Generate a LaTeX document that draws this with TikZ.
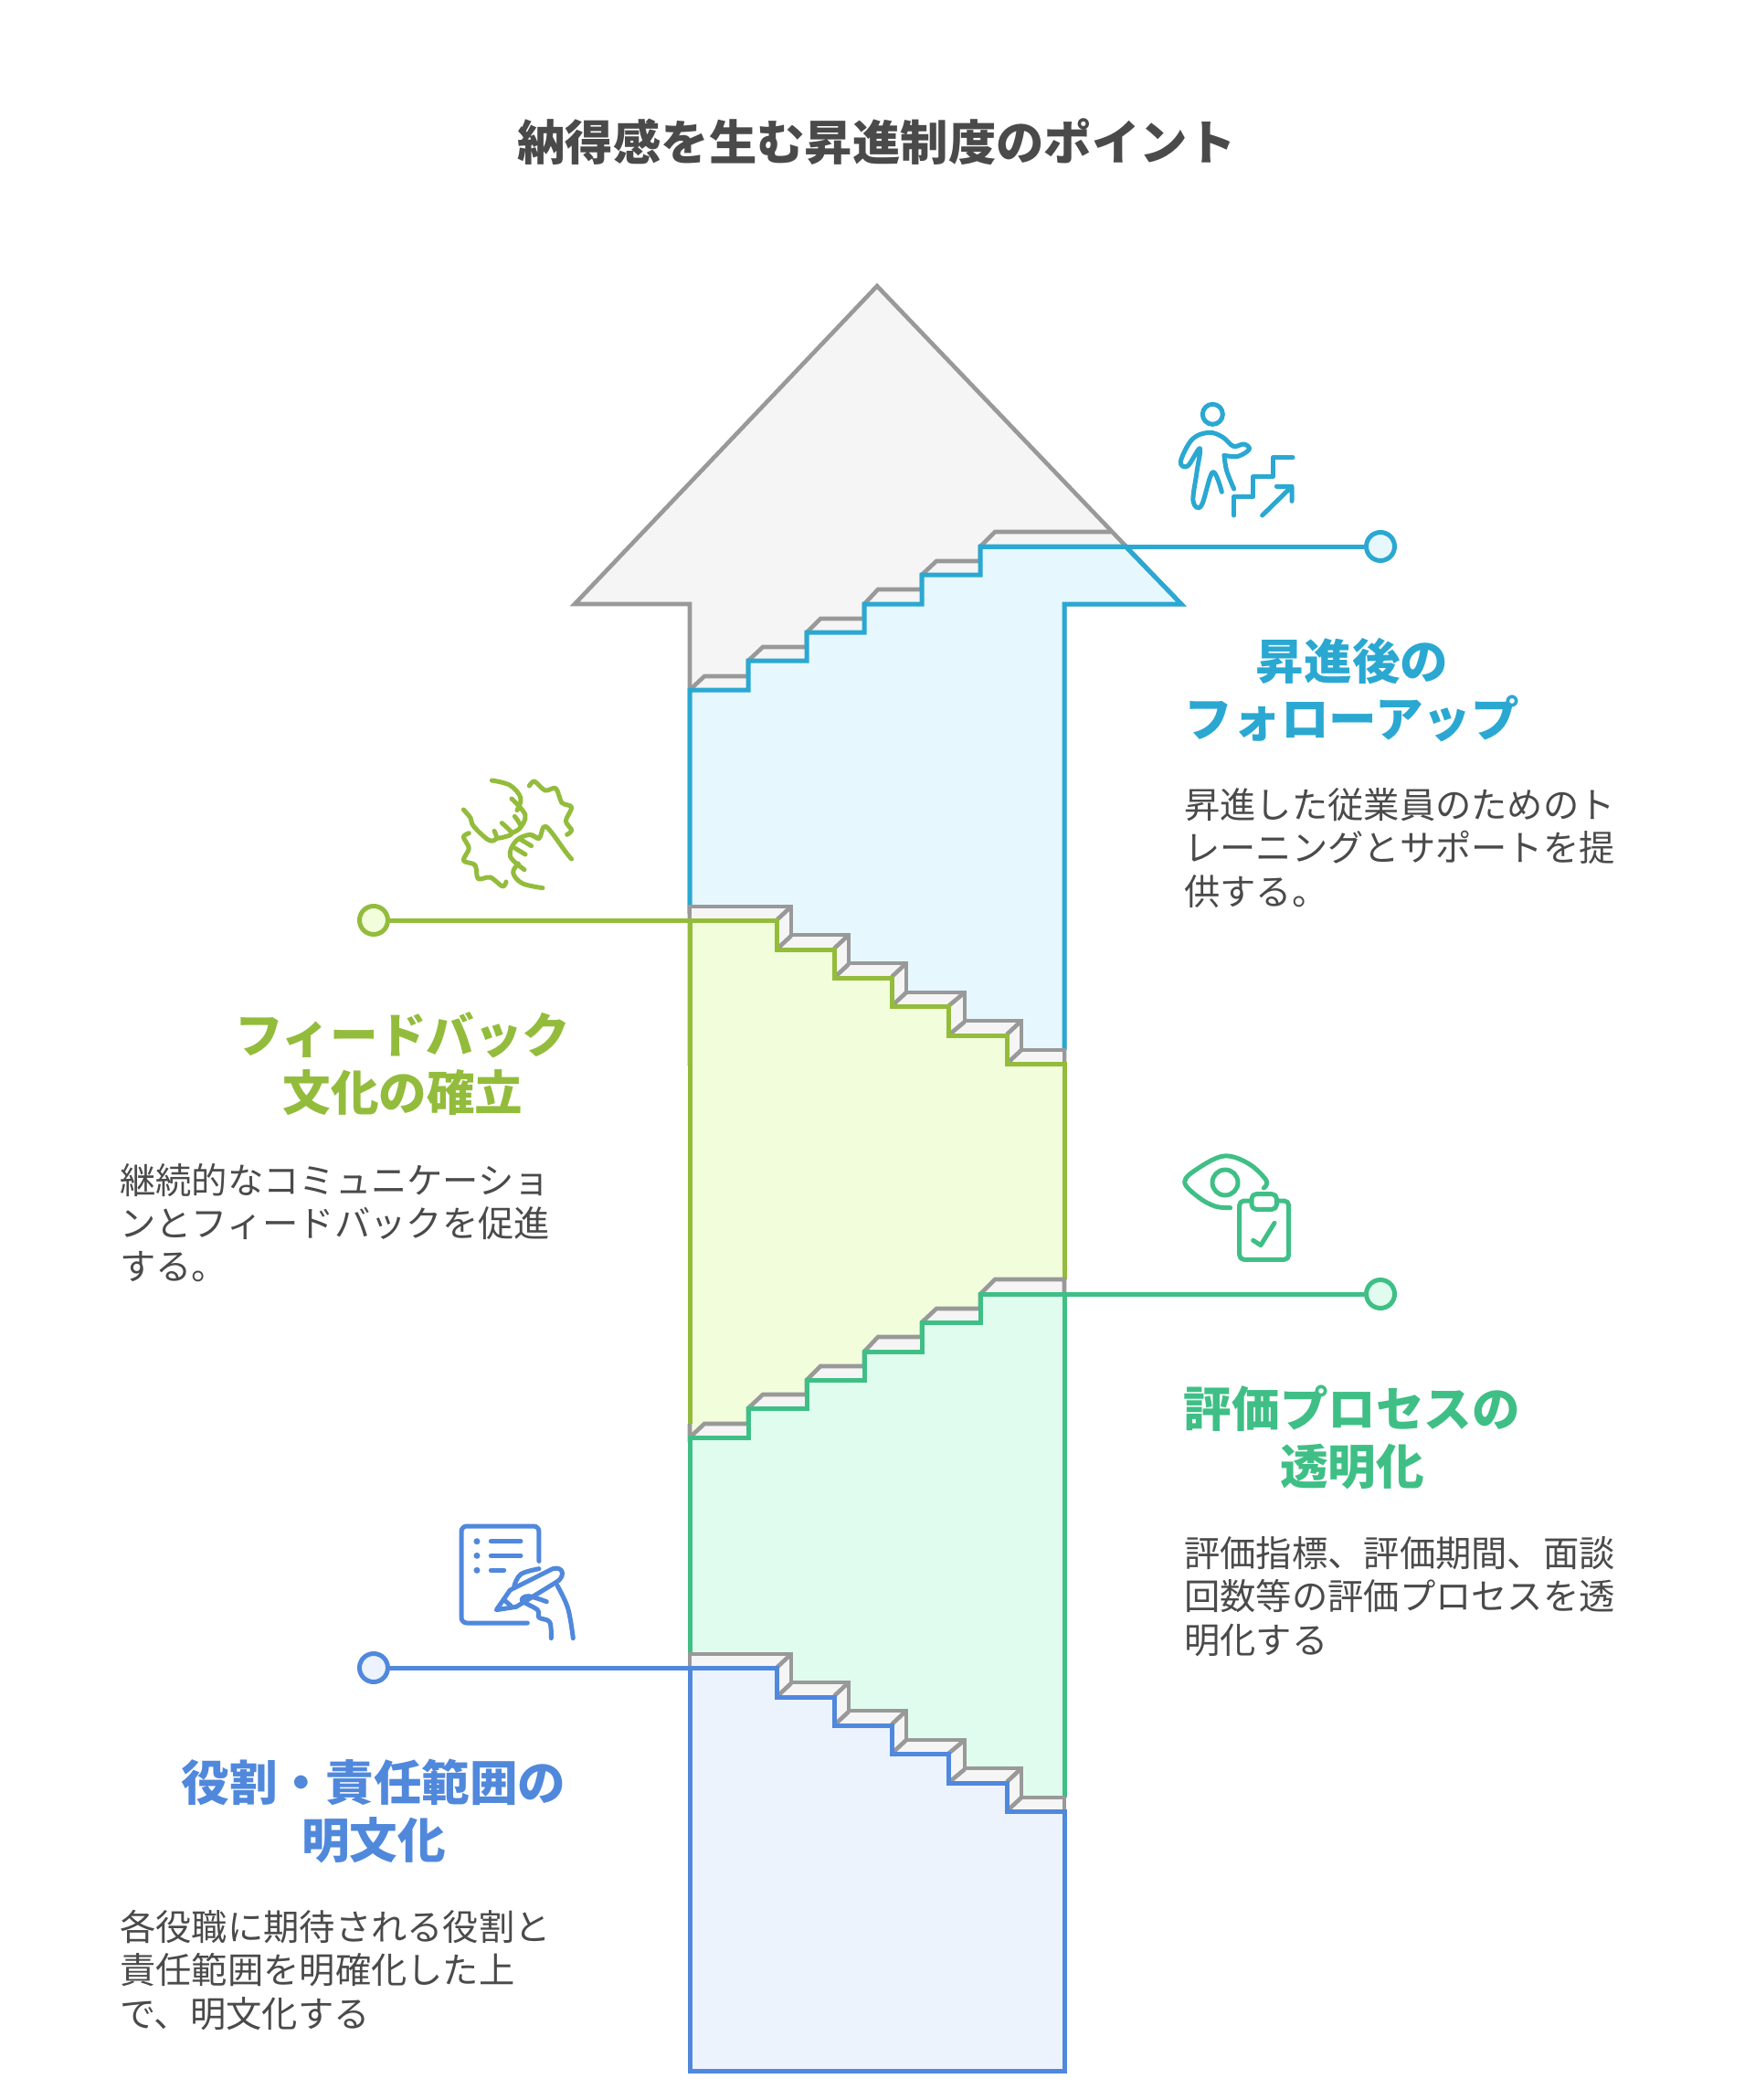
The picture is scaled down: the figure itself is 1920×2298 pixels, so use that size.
\documentclass[tikz,border=0pt]{standalone}
\usepackage{fontspec}
\setmainfont{Noto Sans CJK JP}
\definecolor{greyline}{HTML}{999999}
\definecolor{greyfill}{HTML}{F5F5F5}
\definecolor{cyanline}{HTML}{2AA8D2}
\definecolor{cyanfill}{HTML}{E6F8FE}
\definecolor{oliveline}{HTML}{93BC3C}
\definecolor{olivefill}{HTML}{F2FDDC}
\definecolor{mintline}{HTML}{3FBF86}
\definecolor{mintfill}{HTML}{E0FCEE}
\definecolor{royalline}{HTML}{5088DC}
\definecolor{royalfill}{HTML}{ECF3FD}
\definecolor{inktext}{HTML}{4A4A4A}
\tikzstyle{greyedge}=[draw=greyline,fill=greyfill,line width=4.6pt]
\tikzstyle{greystroke}=[draw=greyline,line width=4.6pt]
\tikzstyle{edge}=[line width=5pt]
\tikzstyle{dot}=[circle,line width=5pt,minimum size=31pt,inner sep=0pt]
\tikzstyle{icon}=[line width=5pt,line cap=round,line join=round]
\tikzstyle{headline}=[font=\fontsize{52.6}{63}\selectfont\bfseries,align=center]
\tikzstyle{bodytext}=[font=\fontsize{39.3}{47.4}\selectfont,text=inktext,align=left,anchor=west,inner sep=0pt]
\newcommand{\stairsup}{-- (819,755) -- (819,723) -- (883,723) -- (883,692) -- (946,692) -- (946,661) -- (1009,661) -- (1009,629) -- (1073,629) -- (1073,598)}
\newcommand{\stairsdown}{-- (850,1007) -- (850,1039) -- (913,1039) -- (913,1070) -- (976,1070) -- (976,1101) -- (1038,1101) -- (1038,1133) -- (1102,1133) -- (1102,1164) -- (1165,1164)}
\newcommand{\stairsback}{-- (1102,1164) -- (1102,1133) -- (1038,1133) -- (1038,1101) -- (976,1101) -- (976,1070) -- (913,1070) -- (913,1039) -- (850,1039) -- (850,1007)}
\newcommand{\greyup}{(755,755) -- (771,740) -- (819,740) -- (819,723) -- (835,708) -- (883,708) -- (883,692) -- (898,677) -- (946,677) -- (946,661) -- (961,645) -- (1009,645) -- (1009,629) -- (1025,614) -- (1073,614) -- (1073,598) -- (1089,582)}
\newcommand{\greydown}{(755,1007) -- (755,992) -- (866,992) -- (866,1023) -- (929,1023) -- (929,1054) -- (992,1054) -- (992,1086) -- (1056,1086) -- (1056,1117) -- (1118,1117) -- (1118,1149) -- (1165,1149) -- (1165,1164)}
\begin{document}
\begin{tikzpicture}[x=1pt,y=-1pt]
\useasboundingbox (0,0) rectangle (1920,2298);

\node (title) at (959.5,155) [font=\fontsize{52.4}{63}\selectfont\bfseries,text=inktext] {納得感を生む昇進制度のポイント};

\draw [greyedge] (960,313) -- (1293,661) -- (1165,661) -- (1165,1164) -- (755,1164) -- (755,661) -- (629,661) -- cycle;
\draw [greystroke] \greyup -- (1216,582);

\fill [cyanfill] (755,755) \stairsup -- (1232,598) -- (1293,661) -- (1165,661) -- (1165,1164) -- (755,1164) -- cycle;
\draw [edge,draw=cyanline] (755,1000) -- (755,755) \stairsup -- (1232,598) -- (1293,661) -- (1165,661) -- (1165,1149);

\fill [olivefill] (755,1007) \stairsdown -- (1165,1573) -- (755,1573) -- cycle;
\fill [greyfill] \greydown \stairsback -- (755,1007) -- cycle;
\draw [greystroke] \greydown;
\foreach \a/\b/\c in {850/1039/866,913/1070/929,976/1101/992,1038/1133/1056,1102/1164/1118}
  \draw [greystroke] (\a,\b) -- (\c,\b-15) (\a,\b-32) -- (\c,\b-47);
\draw [edge,draw=oliveline] (755,1558) -- (755,1007) \stairsdown -- (1165,1400);

\begin{scope}[yshift=-818pt]
\fill [mintfill] (755,755) \stairsup -- (1165,598) -- (1165,1164) -- (755,1164) -- cycle;
\fill [greyfill] \greyup -- (1165,582) -- (1165,598) -- (1073,598) -- (1073,629) -- (1009,629) -- (1009,661) -- (946,661) -- (946,692) -- (883,692) -- (883,723) -- (819,723) -- (819,755) -- cycle;
\draw [greystroke] (755,740) -- \greyup -- (1165,582) -- (1165,598);
\draw [edge,draw=mintline] (755,1000) -- (755,755) \stairsup -- (1165,598) -- (1165,1149);
\fill [royalfill] (755,1007) \stairsdown -- (1165,1448) -- (755,1448) -- cycle;
\fill [greyfill] \greydown \stairsback -- (755,1007) -- cycle;
\draw [greystroke] \greydown;
\foreach \a/\b/\c in {850/1039/866,913/1070/929,976/1101/992,1038/1133/1056,1102/1164/1118}
  \draw [greystroke] (\a,\b) -- (\c,\b-15) (\a,\b-32) -- (\c,\b-47);
\draw [edge,draw=royalline] (755,1448) -- (755,1007) \stairsdown -- (1165,1448) -- cycle;
\end{scope}

\coordinate (stepa) at (1073,598);
\coordinate (stepb) at (755,1007);
\coordinate (stepc) at (1073,1416);
\coordinate (stepd) at (755,1825);
\node (dota) at (1511,598) [dot,draw=cyanline,fill=cyanfill] {};
\node (dotb) at (409,1007) [dot,draw=oliveline,fill=olivefill] {};
\node (dotc) at (1511,1416) [dot,draw=mintline,fill=mintfill] {};
\node (dotd) at (409,1825) [dot,draw=royalline,fill=royalfill] {};
\draw [edge,draw=cyanline] (stepa) -- (dota);
\draw [edge,draw=oliveline] (stepb) -- (dotb);
\draw [edge,draw=mintline] (stepc) -- (dotc);
\draw [edge,draw=royalline] (stepd) -- (dotd);

\node (heada) at (1480,755) [headline,text=cyanline] {昇進後の\\フォローアップ};
\node (texta) at (1296,928) [bodytext] {昇進した従業員のためのト\\レーニングとサポートを提\\供する。};
\node (headb) at (441,1164) [headline,text=oliveline] {フィードバック\\文化の確立};
\node (textb) at (131,1338) [bodytext] {継続的なコミュニケーショ\\ンとフィードバックを促進\\する。};
\node (headc) at (1480,1573) [headline,text=mintline] {評価プロセスの\\透明化};
\node (textc) at (1296,1747) [bodytext] {評価指標、評価期間、面談\\回数等の評価プロセスを透\\明化する};
\node (headd) at (409,1982) [headline,text=royalline] {役割・責任範囲の\\明文化};
\node (textd) at (131,2156) [bodytext] {各役職に期待される役割と\\責任範囲を明確化した上\\で、明文化する};

\begin{scope}[icon,draw=cyanline,xshift=1260pt,yshift=-420pt,x=0.3333pt,y=-0.3333pt]
\draw (202,100) circle [radius=11pt];
\draw plot [smooth,tension=.6] coordinates {(240,235) (285,238) (322,215) (305,198) (270,205) (235,175) (190,160) (135,182) (97,255) (120,270) (160,212) (150,290) (138,385) (165,400) (202,290) (232,355)};
\draw plot [smooth,tension=.6] coordinates {(240,235) (248,285) (272,345)};
\draw (272,432) -- (272,370) -- (335,370) -- (335,305) -- (400,305) -- (400,242) -- (465,242);
\draw (365,432) -- (462,337) (412,337) -- (462,337) -- (462,385);
\end{scope}

\begin{scope}[icon,draw=oliveline,xshift=480pt,yshift=-830pt,x=0.3333pt,y=-0.3333pt]
\draw plot [smooth,tension=.6] coordinates {(175,72) (235,88) (270,130) (258,170)};
\draw plot [smooth,tension=.6] coordinates {(82,168) (105,195) (115,222) (165,268) (190,262) (183,238)};
\draw plot [smooth,tension=.6] coordinates {(190,262) (215,258) (240,245) (208,212)};
\draw plot [smooth,tension=.6] coordinates {(240,245) (270,225) (250,190)};
\draw plot [smooth,tension=.6] coordinates {(270,225) (285,185) (240,132)};
\draw plot [smooth,tension=.6] coordinates {(342,425) (275,410) (245,375) (262,345)};
\draw plot [smooth,tension=.6] coordinates {(282,365) (235,320) (255,270) (300,250) (330,262) (345,225) (365,235) (420,310) (437,330)};
\draw (252,295) -- (285,315) (268,265) -- (305,287) (300,250) -- (330,262);
\draw plot [smooth,tension=.5] coordinates {(298,90) (315,75) (350,105) (385,98) (405,145) (437,160) (418,205) (437,235) (422,250)};
\draw plot [smooth,tension=.5] coordinates {(100,245) (82,258) (100,295) (82,335) (120,350) (130,395) (170,390) (210,420) (222,405)};
\end{scope}

\begin{scope}[icon,draw=mintline,xshift=1280pt,yshift=-1250pt,x=0.3333pt,y=-0.3333pt]
\draw plot [smooth,tension=.6] coordinates {(200,215) (150,210) (95,180) (50,130) (95,85) (180,45) (260,70) (318,125) (310,150)};
\draw (183,132) circle [radius=14pt];
\draw [rounded corners=5pt] (230,192) rectangle (392,385);
\draw [fill=white,rounded corners=5pt] (270,170) rectangle (352,220);
\draw (275,322) -- (300,338) -- (345,265);
\end{scope}

\begin{scope}[icon,draw=royalline,xshift=490pt,yshift=-1660pt,x=0.3333pt,y=-0.3333pt]
\draw [rounded corners=6pt] (300,145) -- (300,30) -- (45,30) -- (45,348) -- (262,348);
\foreach \row in {80,127,175}
  \fill [royalline] (96,\row) circle [radius=3.5pt];
\draw (142,80) -- (240,80) (142,127) -- (240,127) (142,175) -- (185,175);
\draw (160,305) -- (205,240) -- (345,170) .. controls (385,160) and (385,200) .. (355,215) -- (225,295) -- cycle;
\draw (185,272) -- (208,292);
\draw plot [smooth,tension=.6] coordinates {(218,228) (240,188) (300,170)};
\draw plot [smooth,tension=.6] coordinates {(325,278) (265,260) (245,275) (295,305) (300,330) (335,345) (340,398)};
\draw plot [smooth,tension=.6] coordinates {(360,225) (395,300) (412,398)};
\end{scope}
\end{tikzpicture}
\end{document}
